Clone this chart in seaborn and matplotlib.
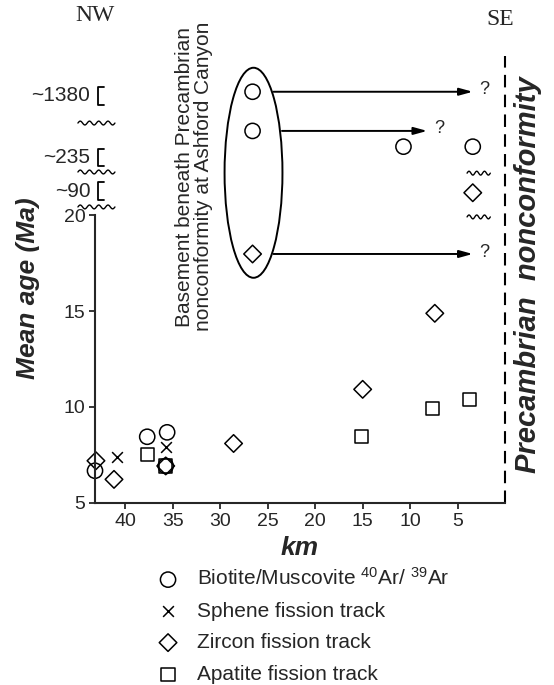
import matplotlib
matplotlib.use("Agg")
import matplotlib.pyplot as plt
from matplotlib.patches import Ellipse
import numpy as np
import seaborn as sns

# ages in the real part of the axis (5-20 Ma)
bio_km = [43.2, 37.7, 35.6, 35.75]
bio_age = [6.68, 8.45, 8.68, 6.93]
sph_km = [40.9, 35.7]
sph_age = [7.38, 7.9]
zir_km = [43.1, 41.2, 35.75, 28.6, 15.0, 7.4]
zir_age = [7.2, 6.23, 6.93, 8.1, 10.92, 14.88]
apa_km = [37.65, 35.75, 15.15, 7.6, 3.75]
apa_age = [7.54, 6.93, 8.45, 9.93, 10.4]

# points drawn in the broken upper part (plot position, not true age)
bio_km_top = [26.6, 26.6, 10.7, 3.4]
bio_pos_top = [26.42, 24.38, 23.56, 23.56]
zir_km_top = [26.6, 3.4]
zir_pos_top = [17.97, 21.16]

# axis break labels
break_labels = ["~1380", "~235", "~90"]
break_pos = [26.2, 23.0, 21.25]
wavy_left = [24.79, 22.24, 20.42]
wavy_right = [22.18, 19.9]

# arrows out of the Ashford Canyon ellipse
arrow_y = [26.42, 24.38, 17.97]
arrow_start = [24.4, 23.5, 24.4]
arrow_end = [3.4, 8.2, 3.4]

sns.set_style("ticks")
plt.rcParams["font.family"] = ["Liberation Sans", "DejaVu Sans"]
plt.rcParams["mathtext.fontset"] = "custom"
plt.rcParams["mathtext.rm"] = "Liberation Sans"
plt.rcParams["mathtext.it"] = "Liberation Sans:italic"
plt.rcParams["mathtext.bf"] = "Liberation Sans:bold"

fig = plt.figure(figsize=(5.54, 6.85), dpi=100)
ax = fig.add_axes([0.1715, 0.2657, 0.7401, 0.7007])

lw = 1.1
sns.scatterplot(x=bio_km + bio_km_top, y=bio_age + bio_pos_top, ax=ax, marker="o", s=120,
                facecolor="none", edgecolor="black", linewidth=lw, label="Biotite/Muscovite $^{40}$Ar/ $^{39}$Ar", clip_on=False)
sns.scatterplot(x=sph_km, y=sph_age, ax=ax, marker="x", s=60, color="black", linewidth=lw,
                label="Sphene fission track", clip_on=False)
sns.scatterplot(x=zir_km + zir_km_top, y=zir_age + zir_pos_top, ax=ax, marker="D", s=80,
                facecolor="none", edgecolor="black", linewidth=lw, label="Zircon fission track", clip_on=False)
sns.scatterplot(x=apa_km, y=apa_age, ax=ax, marker="s", s=90,
                facecolor="none", edgecolor="black", linewidth=lw, label="Apatite fission track", clip_on=False)

ax.set_xlim(43.2, 0)
ax.set_ylim(5, 30)
ax.set_xticks([40, 35, 30, 25, 20, 15, 10, 5])
ax.set_yticks([5, 10, 15, 20])
ax.tick_params(labelsize=14, length=4, width=1.3, direction="out", pad=3)
for s in ["top", "right"]:
    ax.spines[s].set_visible(False)
ax.spines["left"].set_bounds(5, 20)
ax.spines["left"].set_linewidth(1.5)
ax.spines["bottom"].set_linewidth(1.5)

# dashed nonconformity line
ax.plot([0, 0], [5, 28.3], color="black", lw=1.5, ls=(0, (6, 3.5)), clip_on=False)
ax.text(-2.4, 16.9, "Precambrian  nonconformity", rotation=90, ha="center", va="center",
        fontsize=21, fontweight="bold", fontstyle="italic", clip_on=False)

# axis break: wavy lines, brackets and labels
t = np.linspace(0, 1, 80)
for yv in wavy_left:
    ax.plot(45.0 - 3.9 * t, yv + 0.1 * np.sin(2 * np.pi * 4 * t), color="black", lw=1.0, clip_on=False)
for yv in wavy_right:
    ax.plot(4.0 - 2.45 * t, yv + 0.1 * np.sin(2 * np.pi * 3 * t), color="black", lw=1.0, clip_on=False)
for lab, yv in zip(break_labels, break_pos):
    ax.plot([42.3, 42.9, 42.9, 42.3], [yv + 0.45, yv + 0.45, yv - 0.45, yv - 0.45],
            color="black", lw=1.3, clip_on=False)
    ax.text(43.7, yv, lab, ha="right", va="center", fontsize=15, clip_on=False)

# Ashford Canyon group
ax.add_patch(Ellipse((26.5, 22.2), width=6.1, height=10.94, fc="none", ec="black", lw=1.4))
for yv, x0, x1 in zip(arrow_y, arrow_start, arrow_end):
    ax.annotate("", xy=(x1, yv), xytext=(x0, yv),
                arrowprops=dict(arrowstyle="-|>,head_length=0.8,head_width=0.22", color="black", lw=1.4,
                                shrinkA=0, shrinkB=0))
    ax.text(x1 - 0.7, yv + 0.1, "?", ha="left", va="center", fontsize=13)
ax.text(32.75, 22.0, "Basement beneath Precambrian\nnonconformity at Ashford Canyon", rotation=90,
        ha="center", va="center", fontsize=15, linespacing=1.0, multialignment="center")

ax.text(43.2, 30.4, "NW", ha="center", va="center", fontsize=17, family="Liberation Serif", clip_on=False)
ax.text(0.5, 30.2, "SE", ha="center", va="center", fontsize=17, family="Liberation Serif", clip_on=False)

ax.set_xlabel("km", fontsize=19, fontweight="bold", fontstyle="italic")
ax.xaxis.set_label_coords(0.5, -0.068)
ax.set_ylabel("Mean age (Ma)", fontsize=19, fontweight="bold", fontstyle="italic")
ax.yaxis.set_label_coords(-0.135, 0.448)

ax.get_legend().remove()
handles, labels = ax.get_legend_handles_labels()
fig.legend(handles, labels, loc="upper left", bbox_to_anchor=(0.2845, 0.172), frameon=False,
           fontsize=15, handlelength=1.0, handletextpad=0.9, labelspacing=0.6,
           borderpad=0, borderaxespad=0)

fig.savefig("out.png", dpi=100)
